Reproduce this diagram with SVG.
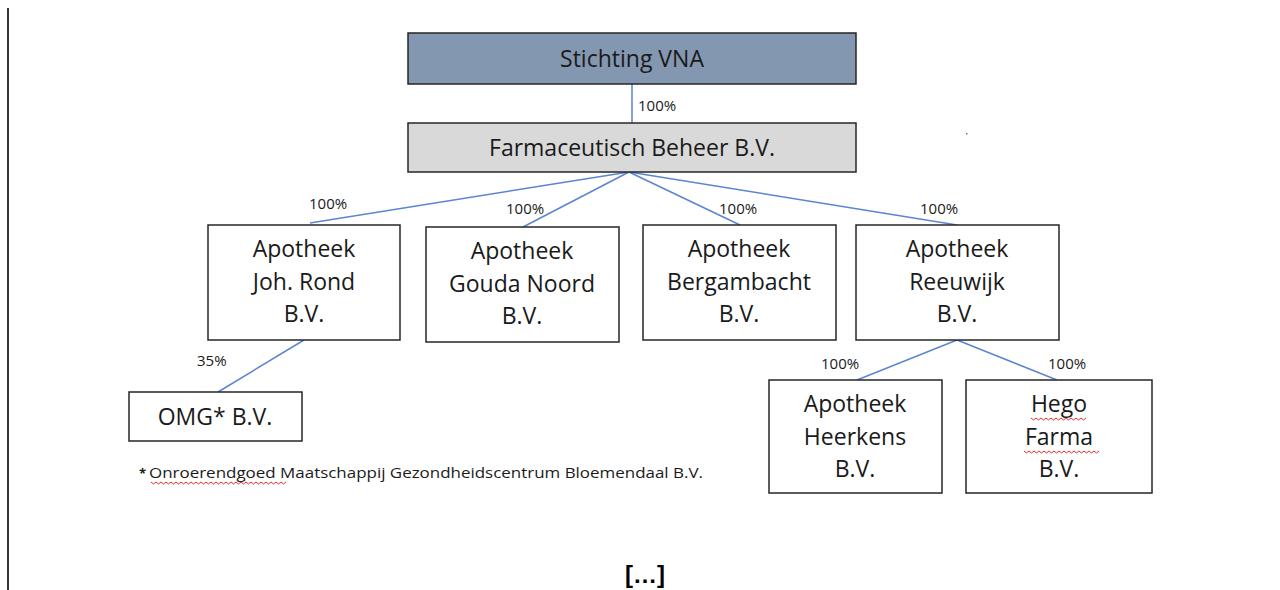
<svg xmlns="http://www.w3.org/2000/svg" width="1280" height="590" viewBox="0 0 1280 590">
<style>
.box{stroke:#262626;stroke-width:1.5;fill:#fff}
.t{font-family:"Open Sans","Liberation Sans",Arial,sans-serif;font-size:23px;fill:#1a1a1a;text-anchor:middle}
.p{font-family:"Open Sans","Liberation Sans",Arial,sans-serif;font-size:15px;fill:#1a1a1a}
.c line{stroke:#5b85d0;stroke-width:1.5}
.w{fill:none;stroke:#e03030;stroke-width:1}
</style>
<rect width="1280" height="590" fill="#fff"/>
<line x1="8" y1="8" x2="8" y2="590" stroke="#000" stroke-width="1.6"/>
<rect x="966" y="133" width="1.5" height="1.5" fill="#4f7fd0"/>
<g class="c" id="connectors">
<line x1="632" y1="84" x2="632" y2="123"/>
<line x1="629" y1="172" x2="310" y2="223"/>
<line x1="629" y1="172" x2="523" y2="227"/>
<line x1="629" y1="172" x2="740" y2="225"/>
<line x1="629" y1="172" x2="957" y2="225"/>
<line x1="304" y1="340" x2="218" y2="392"/>
<line x1="957" y1="340" x2="857" y2="380"/>
<line x1="957" y1="340" x2="1057" y2="380"/>
</g>
<g id="labels">
<text class="p" x="638" y="111">100%</text>
<text class="p" x="309" y="209">100%</text>
<text class="p" x="506" y="214">100%</text>
<text class="p" x="719" y="214">100%</text>
<text class="p" x="920" y="214">100%</text>
<text class="p" x="197" y="366">35%</text>
<text class="p" x="821" y="369">100%</text>
<text class="p" x="1048" y="369">100%</text>
</g>
<g id="n-vna"><rect class="box" x="408" y="33" width="448" height="51" style="fill:#8497b0"/><text class="t" x="632" y="67">Stichting VNA</text></g>
<g id="n-fbb"><rect class="box" x="408" y="123" width="448" height="49" style="fill:#d9d9d9"/><text class="t" x="632" y="156">Farmaceutisch Beheer B.V.</text></g>
<g id="n-joh"><rect class="box" x="208" y="225" width="192" height="115"/><text class="t" x="304" y="257">Apotheek</text><text class="t" x="304" y="290">Joh. Rond</text><text class="t" x="304" y="322">B.V.</text></g>
<g id="n-gouda"><rect class="box" x="426" y="227" width="193" height="115"/><text class="t" x="522" y="259">Apotheek</text><text class="t" x="522" y="292">Gouda Noord</text><text class="t" x="522" y="324">B.V.</text></g>
<g id="n-berg"><rect class="box" x="643" y="225" width="193" height="115"/><text class="t" x="739" y="257">Apotheek</text><text class="t" x="739" y="290">Bergambacht</text><text class="t" x="739" y="322">B.V.</text></g>
<g id="n-reeuw"><rect class="box" x="856" y="225" width="203" height="115"/><text class="t" x="957" y="257">Apotheek</text><text class="t" x="957" y="290">Reeuwijk</text><text class="t" x="957" y="322">B.V.</text></g>
<g id="n-omg"><rect class="box" x="129" y="392" width="173" height="49"/><text class="t" x="215" y="425">OMG* B.V.</text></g>
<g id="n-heer"><rect class="box" x="769" y="380" width="173" height="113"/><text class="t" x="855" y="412">Apotheek</text><text class="t" x="855" y="445">Heerkens</text><text class="t" x="855" y="477">B.V.</text></g>
<g id="n-hego"><rect class="box" x="966" y="380" width="186" height="113"/><text class="t" x="1059" y="412">Hego</text><text class="t" x="1059" y="445">Farma</text><text class="t" x="1059" y="477">B.V.</text></g>
<path class="w" d="M1031 418 l2.5 2 l2.5 -2 l2.5 2 l2.5 -2 l2.5 2 l2.5 -2 l2.5 2 l2.5 -2 l2.5 2 l2.5 -2 l2.5 2 l2.5 -2 l2.5 2 l2.5 -2 l2.5 2 l2.5 -2 l2.5 2 l2.5 -2 l2.5 2 l2.5 -2 l2.5 2 l2.5 -2"/>
<path class="w" d="M1024 451 l2.5 2 l2.5 -2 l2.5 2 l2.5 -2 l2.5 2 l2.5 -2 l2.5 2 l2.5 -2 l2.5 2 l2.5 -2 l2.5 2 l2.5 -2 l2.5 2 l2.5 -2 l2.5 2 l2.5 -2 l2.5 2 l2.5 -2 l2.5 2 l2.5 -2 l2.5 2 l2.5 -2 l2.5 2 l2.5 -2 l2.5 2 l2.5 -2 l2.5 2 l2.5 -2 l2.5 2 l2.5 -2"/>
<text class="p" x="139" y="478" style="font-size:13px;font-weight:bold">*</text>
<text class="p" x="149" y="478" style="font-size:15px" textLength="554" lengthAdjust="spacingAndGlyphs">Onroerendgoed Maatschappij Gezondheidscentrum Bloemendaal B.V.</text>
<path class="w" d="M151 482 l2.5 2 l2.5 -2 l2.5 2 l2.5 -2 l2.5 2 l2.5 -2 l2.5 2 l2.5 -2 l2.5 2 l2.5 -2 l2.5 2 l2.5 -2 l2.5 2 l2.5 -2 l2.5 2 l2.5 -2 l2.5 2 l2.5 -2 l2.5 2 l2.5 -2 l2.5 2 l2.5 -2 l2.5 2 l2.5 -2 l2.5 2 l2.5 -2 l2.5 2 l2.5 -2 l2.5 2 l2.5 -2 l2.5 2 l2.5 -2 l2.5 2 l2.5 -2 l2.5 2 l2.5 -2 l2.5 2 l2.5 -2 l2.5 2 l2.5 -2 l2.5 2 l2.5 -2 l2.5 2 l2.5 -2 l2.5 2 l2.5 -2 l2.5 2 l2.5 -2 l2.5 2 l2.5 -2 l2.5 2 l2.5 -2 l2.5 2 l2.5 -2"/>
<text x="645" y="583" style="font-family:'Liberation Sans',Arial,sans-serif;font-size:24px;font-weight:bold;fill:#000;text-anchor:middle">[…]</text>
</svg>
